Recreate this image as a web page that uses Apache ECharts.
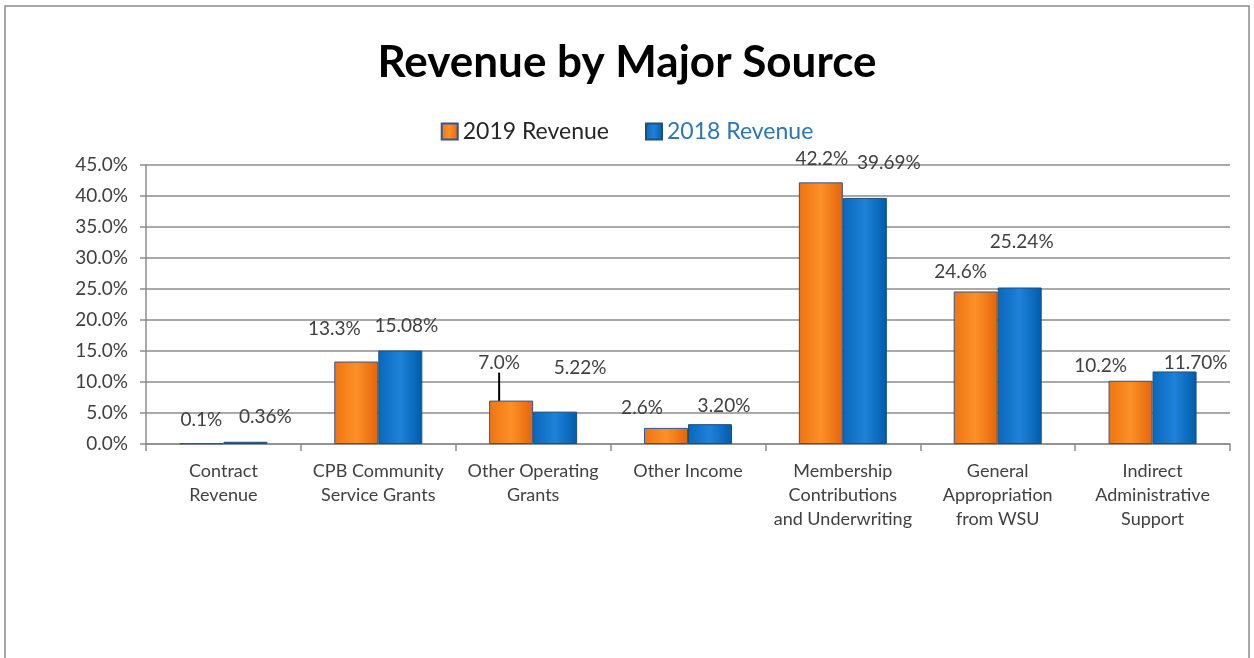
<!DOCTYPE html>
<html>
<head>
<meta charset="utf-8">
<script src="https://cdn.jsdelivr.net/npm/echarts@6/dist/echarts.min.js"></script>
<style>
html,body{margin:0;padding:0;background:#fff;}
#chart{width:1254px;height:658px;}
</style>
</head>
<body>
<div id="chart"></div>
<script>
var categories = ['Contract\nRevenue', 'CPB Community\nService Grants', 'Other Operating\nGrants', 'Other Income', 'Membership\nContributions\nand Underwriting', 'General\nAppropriation\nfrom WSU', 'Indirect\nAdministrative\nSupport'];
var rev2019 = [0.1, 13.3, 7.0, 2.6, 42.2, 24.6, 10.2];
var rev2018 = [0.36, 15.08, 5.22, 3.20, 39.69, 25.24, 11.70];
var labels2019 = ['0.1%', '13.3%', '7.0%', '2.6%', '42.2%', '24.6%', '10.2%'];
var labels2018 = ['0.36%', '15.08%', '5.22%', '3.20%', '39.69%', '25.24%', '11.70%'];
var yTicks = [0, 5, 10, 15, 20, 25, 30, 35, 40, 45];

// label displacement (layout only)
var off2019 = [[0,-9],[-22,-18],[-12,-23],[-24,-6],[1,-9],[-15,-5],[-30,0]];
var off2018 = [[20,-10],[6,-10],[25,-29],[14,-4],[24,-21],[2,-31],[21,6]];

var chart = echarts.init(document.getElementById('chart'));
var labelColor = '#404040';
var fam = 'Lato';
function grad(c0, c1, c2) {
  return new echarts.graphic.LinearGradient(0, 0, 1, 0, [
    {offset: 0, color: c0}, {offset: 0.5, color: c1}, {offset: 1, color: c2}
  ]);
}
var orangeFill = grad('#EE7412', '#FD9028', '#E2650A');
var blueFill = grad('#0868BC', '#1E82D8', '#005CAC');

function mkData(vals, lbls, lineIdx) {
  return vals.map(function (v, i) {
    var d = {value: v, label: {formatter: lbls[i]}};
    if (i === lineIdx) d.labelLine = {show: true, lineStyle: {color: '#000', width: 2}};
    return d;
  });
}

chart.setOption({
  backgroundColor: '#fff',
  animation: false,
  graphic: [{
    type: 'rect', shape: {x: 5, y: 6, width: 1244, height: 700},
    style: {fill: 'none', stroke: '#8a8a8a', lineWidth: 1.5}
  }],
  title: {
    text: 'Revenue by Major Source', left: 'center', top: 36,
    textStyle: {fontFamily: fam, fontWeight: 'bold', fontSize: 44, color: '#000'}
  },
  legend: {
    top: 115, left: 'center', itemWidth: 16, itemHeight: 16, itemGap: 36,
    icon: 'rect',
    textStyle: {fontFamily: fam, fontSize: 23, color: '#262626'},
    data: [
      {name: '2019 Revenue', textStyle: {color: '#262626'}},
      {name: '2018 Revenue', textStyle: {color: '#2E75B6'}}
    ]
  },
  grid: {left: 146, right: 24, top: 165, bottom: 214},
  xAxis: {
    type: 'category', data: categories,
    axisLine: {lineStyle: {color: '#8c8c8c', width: 1.5}},
    axisTick: {show: true, length: 7, lineStyle: {color: '#8c8c8c', width: 1.5}},
    axisLabel: {interval: 0, fontFamily: fam, fontSize: 18, color: labelColor, lineHeight: 24, margin: 15}
  },
  yAxis: {
    type: 'value', min: 0, max: 45, interval: 5,
    axisLine: {show: true, lineStyle: {color: '#8c8c8c', width: 1.5}},
    axisTick: {show: true, length: 6, lineStyle: {color: '#8c8c8c', width: 1.5}},
    splitLine: {lineStyle: {color: '#8c8c8c', width: 1.5}},
    axisLabel: {fontFamily: fam, fontSize: 19, color: labelColor, margin: 18,
      formatter: function (v) { return yTicks.indexOf(v) >= 0 ? v.toFixed(1) + '%' : ''; }}
  },
  series: [
    {
      name: '2019 Revenue', type: 'bar', barWidth: 44, barGap: '0%',
      itemStyle: {color: orangeFill, borderColor: '#2F5597', borderWidth: 1},
      label: {show: true, position: 'top', fontFamily: fam, fontSize: 19, color: labelColor},
      labelLayout: function (p) { var o = off2019[p.dataIndex]; return {dx: o[0], dy: o[1]}; },
      labelLine: {show: false},
      data: mkData(rev2019, labels2019, 2)
    },
    {
      name: '2018 Revenue', type: 'bar', barWidth: 44, barGap: '0%',
      itemStyle: {color: blueFill, borderColor: '#1F4E79', borderWidth: 1},
      label: {show: true, position: 'top', fontFamily: fam, fontSize: 19, color: labelColor},
      labelLayout: function (p) { var o = off2018[p.dataIndex]; return {dx: o[0], dy: o[1]}; },
      labelLine: {show: false},
      data: mkData(rev2018, labels2018, -1)
    }
  ]
});
</script>
</body>
</html>
